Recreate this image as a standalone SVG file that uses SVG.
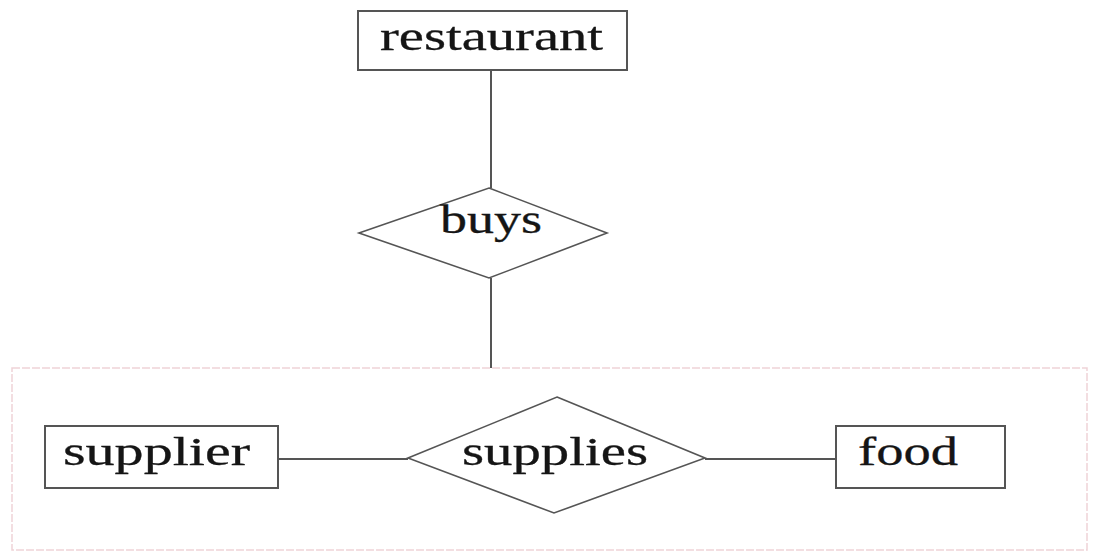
<svg xmlns="http://www.w3.org/2000/svg" width="1099" height="558" viewBox="0 0 1099 558">
  <style>
    .entity { fill: #ffffff; stroke: #555555; stroke-width: 2; }
    .relation { fill: #ffffff; stroke: #555555; stroke-width: 1.6; }
    .edge { stroke: #555555; stroke-width: 2; fill: none; }
    .label { font-family: "Liberation Serif", "Times New Roman", serif; font-size: 41px; fill: #151515; stroke: #151515; stroke-width: 0.3; }
    .aggregate { fill: none; stroke: #efd3d7; stroke-width: 1.5; stroke-dasharray: 8 2; }
  </style>
  <rect width="1099" height="558" fill="#ffffff"/>

  <!-- aggregation boundary around supplier–supplies–food -->
  <g id="aggregation">
    <rect class="aggregate" x="12" y="368" width="1075" height="182"/>
  </g>

  <g id="connectors">
    <line class="edge" x1="491" y1="70" x2="491" y2="188"/>
    <line class="edge" x1="491" y1="278" x2="491" y2="368"/>
    <line class="edge" x1="278" y1="459" x2="408" y2="459"/>
    <line class="edge" x1="705" y1="459" x2="836" y2="459"/>
  </g>

  <g id="restaurant">
    <rect class="entity" x="358" y="11" width="269" height="59"/>
    <text class="label" x="380" y="50" textLength="223" lengthAdjust="spacingAndGlyphs">restaurant</text>
  </g>

  <g id="buys">
    <polygon class="relation" points="489,188 607,233 489,278 359,233"/>
    <text class="label" x="440" y="233" textLength="102" lengthAdjust="spacingAndGlyphs">buys</text>
  </g>

  <g id="supplier">
    <rect class="entity" x="45" y="426" width="233" height="62"/>
    <text class="label" x="63" y="465" textLength="187" lengthAdjust="spacingAndGlyphs">supplier</text>
  </g>

  <g id="supplies">
    <polygon class="relation" points="557,397 705,458 554,513 408,458"/>
    <text class="label" x="462" y="465" textLength="186" lengthAdjust="spacingAndGlyphs">supplies</text>
  </g>

  <g id="food">
    <rect class="entity" x="836" y="426" width="169" height="62"/>
    <text class="label" x="858" y="465" textLength="100" lengthAdjust="spacingAndGlyphs">food</text>
  </g>
</svg>
